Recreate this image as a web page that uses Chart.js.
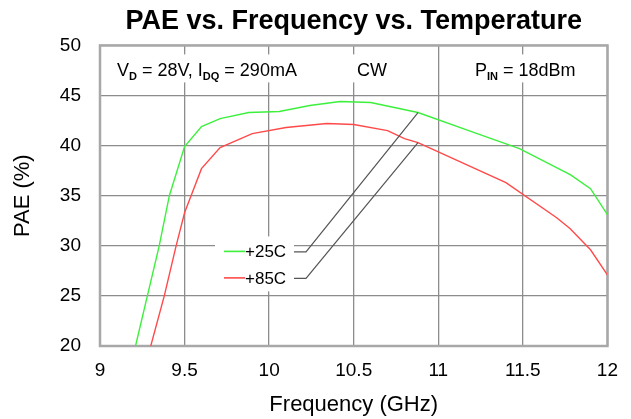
<!DOCTYPE html>
<html>
<head>
<meta charset="utf-8">
<script src="https://cdn.jsdelivr.net/npm/chart.js@4.4.1/dist/chart.umd.min.js"></script>
<style>
  html, body { margin: 0; padding: 0; background: #fff; }
  #wrap { width: 631px; height: 419px; }
</style>
</head>
<body>
<div id="wrap"><canvas id="chart"></canvas></div>
<script>
/* ── data ── */
const FREQ_25C = [9.21, 9.28, 9.35, 9.41, 9.50, 9.60, 9.71, 9.88, 10.06, 10.24, 10.42, 10.60, 10.88, 11.18, 11.48, 11.78, 11.90, 12.00];
const PAE_25C  = [20.0, 25.0, 30.0, 35.0, 39.9, 41.9, 42.7, 43.3, 43.4,  44.0,  44.4,  44.3,  43.3,  41.5,  39.7,  37.1,  35.7,  33.1];
const FREQ_85C = [9.30, 9.38, 9.45, 9.50, 9.60, 9.71, 9.90, 10.10, 10.34, 10.50, 10.70, 10.80, 10.88, 11.40, 11.70, 11.78, 11.90, 12.00];
const PAE_85C  = [20.0, 25.0, 30.0, 33.3, 37.7, 39.8, 41.2, 41.8,  42.2,  42.1,  41.5,  40.7,  40.3,  36.3,  32.8,  31.7,  29.6,  27.1];

const SERIES_LABELS = ['+25C', '+85C'];
const SERIES_COLORS = ['#3cf03c', '#ff4a4a'];
const LEGEND_ANCHOR_FREQ = 10.88;          // where the leader lines touch the curves
const LEGEND_ANCHOR_PAE  = [43.3, 40.3];

const X_MIN = 9,  X_MAX = 12, X_STEP = 0.5;
const Y_MIN = 20, Y_MAX = 50, Y_STEP = 5;

const HEADER_TEXT = [
  [['V', 0], ['D', 1], [' = 28V, I', 0], ['DQ', 1], [' = 290mA', 0]],
  [['CW', 0]],
  [['P', 0], ['IN', 1], [' = 18dBm', 0]],
];

const FONT = '"Liberation Sans", Arial, sans-serif';

/* ── helpers ── */
function drawRich(ctx, parts, x, y) {
  for (const [t, sub] of parts) {
    ctx.font = sub ? `bold 11px ${FONT}` : `18px ${FONT}`;
    ctx.fillText(t, x, sub ? y + 4 : y);
    x += ctx.measureText(t).width;
  }
  return x;
}
function richWidth(ctx, parts) {
  let w = 0;
  for (const [t, sub] of parts) {
    ctx.font = sub ? `bold 11px ${FONT}` : `18px ${FONT}`;
    w += ctx.measureText(t).width;
  }
  return w;
}

/* ── header text, legend box, frame ── */
const overlay = {
  id: 'overlay',
  beforeDatasetsDraw(chart) {
    const { ctx, chartArea: a } = chart;
    ctx.save();
    ctx.textBaseline = 'alphabetic';
    ctx.fillStyle = '#000';

    // header strings sit on little white boxes that break the grid
    const hx = [17, 257, 375];
    HEADER_TEXT.forEach((parts, i) => {
      const x = a.left + hx[i];
      const w = richWidth(ctx, parts);
      ctx.fillStyle = '#fff';
      ctx.fillRect(x - 6, a.top + 9, w + 10, 28);
      ctx.fillStyle = '#000';
      drawRich(ctx, parts, x, a.top + 31);
    });

    // legend background
    ctx.fillStyle = '#fff';
    ctx.fillRect(a.left + 115, a.top + 191, 79, 55);

    // frame
    ctx.strokeStyle = '#a8a8a8';
    ctx.lineWidth = 2.5;
    ctx.strokeRect(a.left, a.top, a.right - a.left, a.bottom - a.top);
    ctx.restore();
  },
  afterDatasetsDraw(chart) {
    const { ctx, chartArea: a, scales } = chart;
    ctx.save();
    ctx.font = `17px ${FONT}`;
    ctx.textBaseline = 'middle';
    const ax = scales.x.getPixelForValue(LEGEND_ANCHOR_FREQ);
    SERIES_LABELS.forEach((lab, i) => {
      const y = a.top + 206 + i * 26.5;
      ctx.strokeStyle = SERIES_COLORS[i];
      ctx.lineWidth = 1.6;
      ctx.beginPath();
      ctx.moveTo(a.left + 124, y);
      ctx.lineTo(a.left + 145, y);
      ctx.stroke();
      ctx.fillStyle = '#000';
      ctx.fillText(lab, a.left + 145, y + 1);
      // leader line
      ctx.strokeStyle = '#555';
      ctx.lineWidth = 1.2;
      ctx.beginPath();
      ctx.moveTo(a.left + 194, y + 0.5);
      ctx.lineTo(a.left + 206, y + 0.5);
      ctx.lineTo(ax, scales.y.getPixelForValue(LEGEND_ANCHOR_PAE[i]));
      ctx.stroke();
    });
    ctx.restore();
  },
};

/* ── build chart ── */
const toPts = (xs, ys) => xs.map((x, i) => ({ x, y: ys[i] }));

new Chart(document.getElementById('chart').getContext('2d'), {
  type: 'scatter',
  data: {
    datasets: [
      { label: SERIES_LABELS[0], data: toPts(FREQ_25C, PAE_25C), borderColor: SERIES_COLORS[0] },
      { label: SERIES_LABELS[1], data: toPts(FREQ_85C, PAE_85C), borderColor: SERIES_COLORS[1] },
    ].map(d => ({ ...d, showLine: true, borderWidth: 1.4, pointRadius: 0, tension: 0 })),
  },
  options: {
    animation: false,
    responsive: true,
    maintainAspectRatio: false,
    devicePixelRatio: 1,
    layout: { padding: { left: 0, right: 20.3, top: 0, bottom: 0 } },
    plugins: {
      legend: { display: false },
      tooltip: { enabled: false },
      title: {
        display: true,
        text: 'PAE vs. Frequency vs. Temperature',
        color: '#000',
        fullSize: false,
        font: { family: FONT, size: 27, weight: 'bold' },
        padding: { top: 5, bottom: 8 },
      },
    },
    scales: {
      x: {
        type: 'linear', min: X_MIN, max: X_MAX,
        afterFit: s => { s.height = 73; },
        grid: { color: '#8c8c8c', lineWidth: 1.3, drawTicks: false },
        border: { display: false },
        ticks: { stepSize: X_STEP, color: '#000', padding: 13, font: { family: FONT, size: 19 },
                 callback: v => `${v}` },
        title: { display: true, text: 'Frequency (GHz)', color: '#000', padding: { top: 0, bottom: 1 },
                 font: { family: FONT, size: 22 } },
      },
      y: {
        type: 'linear', min: Y_MIN, max: Y_MAX,
        afterFit: s => { s.width = 100; },
        grid: { color: '#8c8c8c', lineWidth: 1.3, drawTicks: false },
        border: { display: false },
        ticks: { stepSize: Y_STEP, color: '#000', padding: 19, font: { family: FONT, size: 19 } },
        title: { display: true, text: 'PAE (%)', color: '#000', padding: { top: 10, bottom: 0 },
                 font: { family: FONT, size: 22 } },
      },
    },
  },
  plugins: [overlay],
});
</script>
</body>
</html>
